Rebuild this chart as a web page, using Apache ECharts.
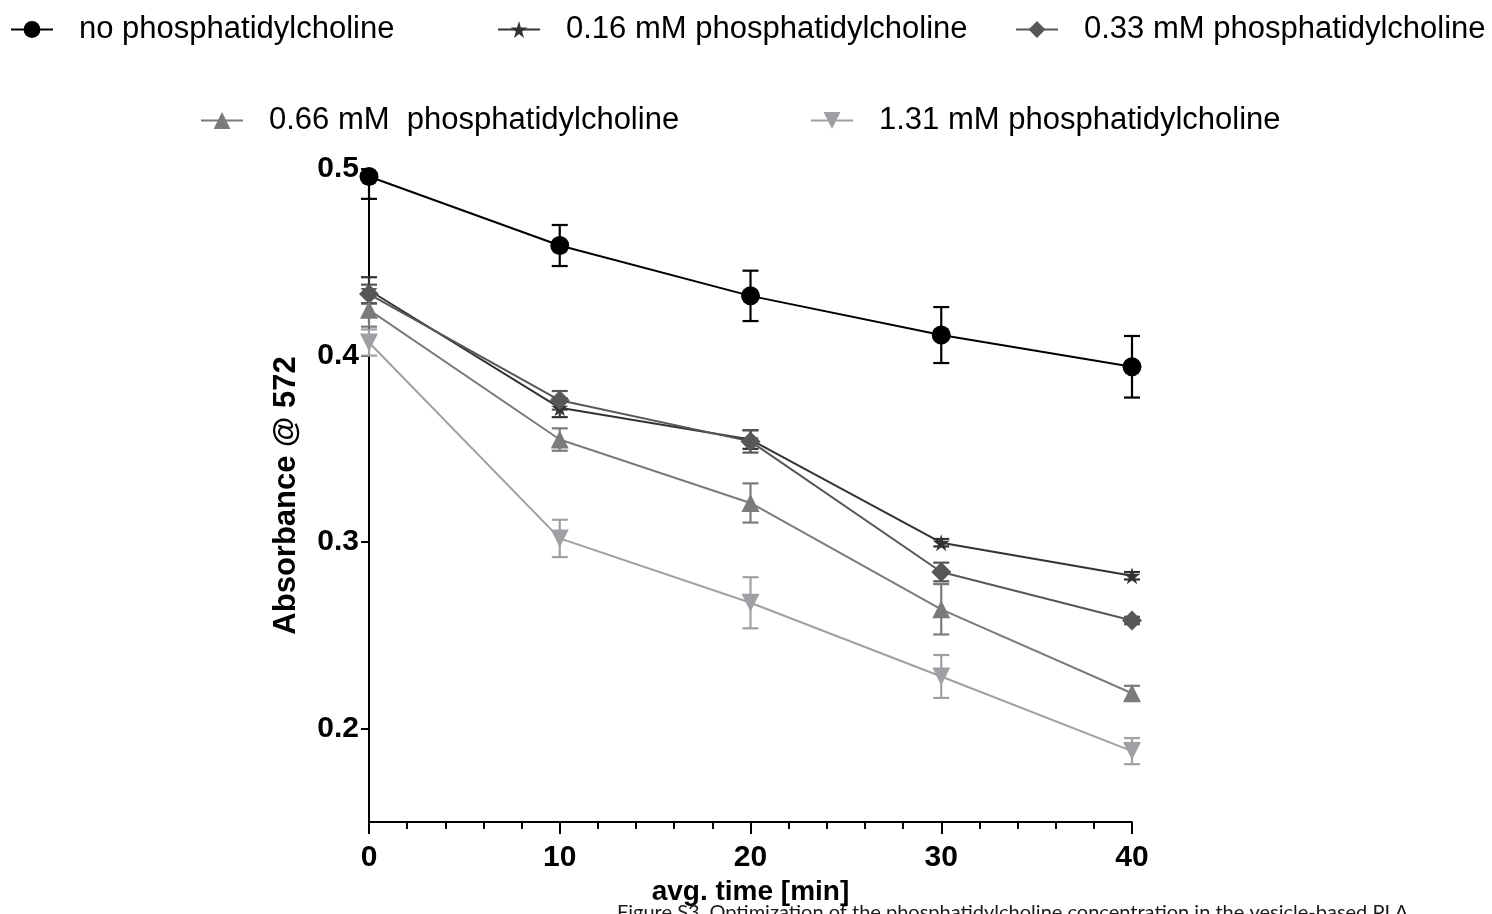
<!DOCTYPE html>
<html>
<head>
<meta charset="utf-8">
<script src="https://cdn.jsdelivr.net/npm/echarts@6/dist/echarts.min.js"></script>
<style>
  html, body { margin: 0; padding: 0; background: #fff; }
  #chart { width: 1492px; height: 914px; }
</style>
</head>
<body>
<div id="chart"></div>
<script>
const times = [0, 10, 20, 30, 40]
const yTicks = [0.2, 0.3, 0.4, 0.5]

const seriesNames = [
  'no phosphatidylcholine',
  '0.16 mM phosphatidylcholine',
  '0.33 mM phosphatidylcholine',
  '0.66 mM  phosphatidylcholine',
  '1.31 mM phosphatidylcholine'
]

// mean absorbance and error (+/-)
const noPC = [0.496, 0.459, 0.432, 0.411, 0.394]
const noPCErr = [0.012, 0.011, 0.0135, 0.015, 0.0165]
const pc016 = [0.435, 0.372, 0.355, 0.2997, 0.282]
const pc016Err = [0.007, 0.005, 0.005, 0.002, 0.002]
const pc033 = [0.433, 0.376, 0.354, 0.284, 0.258]
const pc033Err = [0.005, 0.005, 0.006, 0.005, 0.002]
const pc066 = [0.4245, 0.355, 0.321, 0.264, 0.219]
const pc066Err = [0.009, 0.006, 0.0105, 0.0135, 0.004]
const pc131 = [0.407, 0.302, 0.2675, 0.228, 0.188]
const pc131Err = [0.007, 0.010, 0.0137, 0.0115, 0.007]

const starPath = 'path://M50,0 L61,35 L98,35 L68,57 L79,91 L50,70 L21,91 L32,57 L2,35 L39,35 Z'

const groups = [
  { vals: noPC, errs: noPCErr, color: '#000000', symbol: 'circle', size: 19, rotate: 0 },
  { vals: pc016, errs: pc016Err, color: '#333333', symbol: starPath, size: 17, rotate: 0 },
  { vals: pc033, errs: pc033Err, color: '#575757', symbol: 'diamond', size: 20, rotate: 0 },
  { vals: pc066, errs: pc066Err, color: '#7b7b7b', symbol: 'triangle', size: 18, rotate: 0 },
  { vals: pc131, errs: pc131Err, color: '#a0a0a4', symbol: 'triangle', size: 18, rotate: 180 }
]

const font = 'Liberation Sans'

const errorBars = (g) => ({
  type: 'custom',
  silent: true,
  clip: false,
  z: 1,
  data: times.map((t, i) => [t, g.vals[i] - g.errs[i], g.vals[i] + g.errs[i]]),
  renderItem: (params, api) => {
    const top = params.coordSys.y
    const x = api.value(0)
    const lo = api.coord([x, api.value(1)])
    const hi = api.coord([x, api.value(2)])
    const w = 8
    const style = { stroke: g.color, lineWidth: 2.2, fill: null }
    const children = []
    const hiY = Math.max(hi[1], top)
    children.push({ type: 'line', shape: { x1: lo[0], y1: lo[1], x2: hi[0], y2: hiY }, style })
    children.push({ type: 'line', shape: { x1: lo[0] - w, y1: lo[1], x2: lo[0] + w, y2: lo[1] }, style })
    if (hi[1] >= top) {
      children.push({ type: 'line', shape: { x1: hi[0] - w, y1: hi[1], x2: hi[0] + w, y2: hi[1] }, style })
    }
    return { type: 'group', children }
  }
})

const lineSeries = groups.map((g, i) => ({
  name: seriesNames[i],
  type: 'line',
  clip: false,
  z: 3,
  data: times.map((t, k) => [t, g.vals[k]]),
  symbol: g.symbol,
  symbolSize: g.size,
  symbolRotate: g.rotate,
  itemStyle: { color: g.color },
  lineStyle: { color: g.color, width: 2 }
}))

const legendPos = [[10, 14], [497, 14], [1015, 14], [200, 105], [810, 105]]

const chart = echarts.init(document.getElementById('chart'))
chart.setOption({
  animation: false,
  backgroundColor: '#fff',
  grid: { left: 369, right: 360, top: 169, bottom: 92, containLabel: false, outerBoundsMode: 'none' },
  legend: seriesNames.map((n, i) => ({
    data: [n],
    left: legendPos[i][0],
    top: legendPos[i][1],
    padding: 0,
    itemWidth: 42,
    itemHeight: 21,
    selectedMode: false,
    textStyle: { fontSize: 31, fontFamily: font, color: '#000', padding: [0, 0, 0, 21] }
  })),
  xAxis: {
    type: 'value',
    min: 0,
    max: 40,
    interval: 10,
    axisLine: { lineStyle: { color: '#000', width: 2 } },
    axisTick: { length: 12, lineStyle: { color: '#000', width: 2 } },
    minorTick: { show: true, splitNumber: 5, length: 7, lineStyle: { color: '#000', width: 2 } },
    splitLine: { show: false },
    axisLabel: { fontSize: 30, fontWeight: 'bold', fontFamily: font, color: '#000', margin: 21 },
    name: 'avg. time [min]',
    nameLocation: 'middle',
    nameGap: 56,
    nameTextStyle: { fontSize: 28, fontWeight: 'bold', fontFamily: font, color: '#000' }
  },
  yAxis: {
    type: 'value',
    min: 0.15,
    max: 0.5,
    axisLine: { show: true, lineStyle: { color: '#000', width: 2 } },
    axisTick: { show: true, length: 8, customValues: yTicks, lineStyle: { color: '#000', width: 2 } },
    splitLine: { show: false },
    axisLabel: { fontSize: 30, fontWeight: 'bold', fontFamily: font, color: '#000', margin: 10, customValues: yTicks },
    name: 'Absorbance @ 572',
    nameLocation: 'middle',
    nameRotate: 90,
    nameGap: 67,
    nameTextStyle: { fontSize: 31, fontWeight: 'bold', fontFamily: font, color: '#000' }
  },
  graphic: [{
    type: 'text',
    left: 617,
    top: 903,
    z: -1,
    style: {
      text: 'Figure S3. Optimization of the phosphatidylcholine concentration in the vesicle-based PLA',
      font: '20px Lato',
      fill: '#1a1a1a'
    }
  }],
  series: [...groups.map(errorBars), ...lineSeries]
})
</script>
</body>
</html>
